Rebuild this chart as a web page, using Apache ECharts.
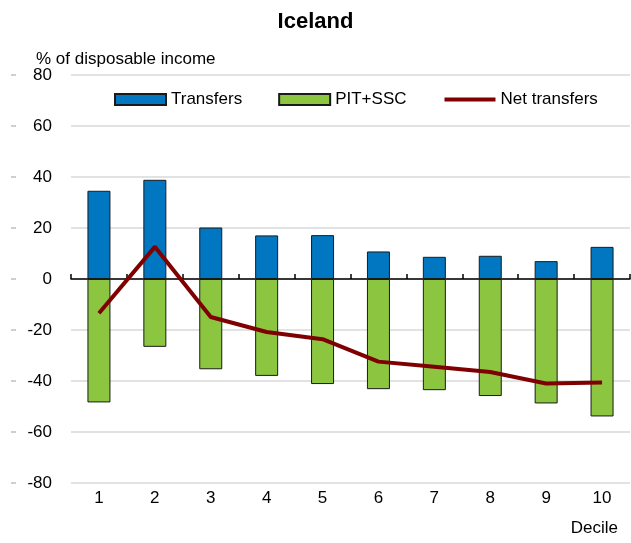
<!DOCTYPE html>
<html>
<head>
<meta charset="utf-8">
<script src="https://cdn.jsdelivr.net/npm/echarts@6/dist/echarts.min.js"></script>
<style>
  html, body { margin: 0; padding: 0; background: #fff; }
  #chart { width: 631px; height: 543px; }
</style>
</head>
<body>
<div id="chart"></div>
<script>
// data
var deciles = ['1', '2', '3', '4', '5', '6', '7', '8', '9', '10'];
var transfers = [34.6, 38.9, 20.2, 17.1, 17.2, 10.8, 8.7, 9.1, 7.0, 12.6];
var pitSsc = [-48.4, -26.6, -35.4, -38.0, -41.2, -43.2, -43.6, -45.9, -48.8, -53.9];
var netTransfers = [-13.4, 12.6, -14.9, -20.8, -23.6, -32.4, -34.4, -36.5, -41.0, -40.6];

var font = "'Liberation Sans Narrow', 'Arial Narrow', 'Liberation Sans', Arial, sans-serif";

var myChart = echarts.init(document.getElementById('chart'));
var option = {
    backgroundColor: '#fff',
    animation: false,
    textStyle: { fontFamily: font, color: '#000' },
    title: [
        {
            text: 'Iceland',
            left: 'center',
            top: 6,
            textStyle: { fontFamily: 'Liberation Sans, Arial, sans-serif', fontWeight: 'bold', fontSize: 22, color: '#000' }
        },
        {
            text: '% of disposable income',
            left: 31,
            top: 46,
            textStyle: { fontFamily: font, fontWeight: 'normal', fontSize: 17, color: '#000' }
        },
        {
            text: 'Decile',
            right: 8,
            top: 515,
            textStyle: { fontFamily: font, fontWeight: 'normal', fontSize: 17, color: '#000' }
        }
    ],
    legend: {
        top: 86,
        left: 109,
        itemWidth: 51,
        itemHeight: 11,
        itemGap: 36,
        textStyle: { fontFamily: font, fontSize: 17, color: '#000' },
        data: [
            { name: 'Transfers', icon: 'rect' },
            { name: 'PIT+SSC', icon: 'rect' },
            { name: 'Net transfers', itemStyle: { opacity: 0 }, lineStyle: { width: 4, color: '#7f0000' } }
        ]
    },
    grid: { left: 71, right: 1, top: 75, bottom: 60 },
    xAxis: [
        {
            // labels at the bottom
            type: 'category',
            data: deciles,
            position: 'bottom',
            axisLine: { show: false, onZero: false },
            axisTick: { show: false },
            axisLabel: { fontFamily: font, fontSize: 17, color: '#000', margin: 7 }
        },
        {
            // zero line with upward ticks
            type: 'category',
            data: deciles,
            position: 'bottom',
            axisLine: { show: true, onZero: true, lineStyle: { color: '#000', width: 1.5 } },
            axisTick: { show: true, inside: true, length: 5, lineStyle: { color: '#000', width: 1.5 } },
            axisLabel: { show: false }
        }
    ],
    yAxis: [
        {
            type: 'value',
            min: -80,
            max: 80,
            interval: 20,
            axisLine: { show: false },
            axisTick: { show: false },
            axisLabel: { fontFamily: font, fontSize: 17, color: '#000', margin: 19 },
            splitLine: { show: true, lineStyle: { color: '#d9d9d9', width: 1.5 } }
        },
        {
            // little dashes at the far left
            type: 'value',
            min: -80,
            max: 80,
            interval: 20,
            position: 'left',
            offset: 55,
            axisLine: { show: false },
            axisTick: { show: true, length: 5, lineStyle: { color: '#bfbfbf', width: 1.5 } },
            axisLabel: { show: false },
            splitLine: { show: false }
        }
    ],
    series: [
        {
            name: 'Transfers',
            type: 'bar',
            data: transfers,
            barWidth: 23,
            barGap: '-100%',
            itemStyle: { color: '#0077c0', borderColor: '#1a1a1a', borderWidth: 1 }
        },
        {
            name: 'PIT+SSC',
            type: 'bar',
            data: pitSsc,
            barWidth: 23,
            barGap: '-100%',
            itemStyle: { color: '#8cc641', borderColor: '#1a1a1a', borderWidth: 1 }
        },
        {
            name: 'Net transfers',
            type: 'line',
            data: netTransfers,
            symbol: 'none',
            lineStyle: { color: '#7f0000', width: 4 },
            itemStyle: { color: '#7f0000' },
            z: 5
        }
    ]
};
myChart.setOption(option);
</script>
</body>
</html>
